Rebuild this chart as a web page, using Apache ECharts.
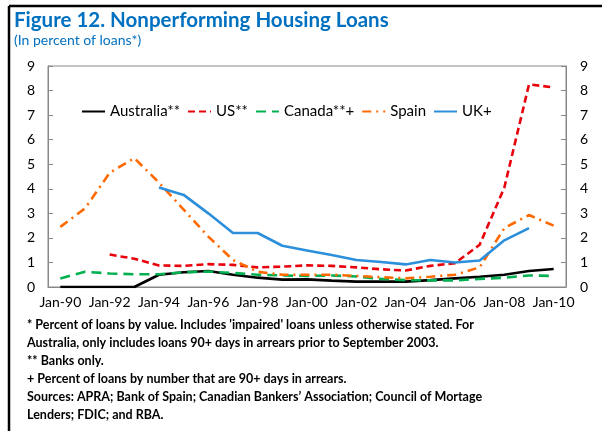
<!DOCTYPE html>
<html>
<head>
<meta charset="utf-8">
<script src="https://cdn.jsdelivr.net/npm/echarts@6/dist/echarts.min.js"></script>
<style>
  html, body { margin: 0; padding: 0; background: #fff; }
  #chart { width: 602px; height: 431px; }
</style>
</head>
<body>
<div id="chart"></div>
<script>
// yearly observations, Jan-90 .. Jan-10
const years = ['Jan-90', 'Jan-91', 'Jan-92', 'Jan-93', 'Jan-94', 'Jan-95', 'Jan-96', 'Jan-97',
  'Jan-98', 'Jan-99', 'Jan-00', 'Jan-01', 'Jan-02', 'Jan-03', 'Jan-04', 'Jan-05', 'Jan-06',
  'Jan-07', 'Jan-08', 'Jan-09', 'Jan-10'];

const australia = [0, 0, 0, 0, 0.5, 0.6, 0.65, 0.5, 0.38, 0.3, 0.31, 0.26, 0.22, 0.22, 0.22, 0.28, 0.35, 0.42, 0.5, 0.65, 0.73];
const us = [null, null, 1.32, 1.15, 0.88, 0.86, 0.93, 0.9, 0.8, 0.83, 0.88, 0.86, 0.8, 0.72, 0.67, 0.86, 0.97, 1.72, 4.05, 8.25, 8.13];
const canada = [0.35, 0.62, 0.55, 0.52, 0.52, 0.6, 0.63, 0.57, 0.5, 0.47, 0.45, 0.47, 0.43, 0.33, 0.28, 0.27, 0.27, 0.33, 0.38, 0.47, 0.45];
const spain = [2.45, 3.2, 4.65, 5.25, 4.25, 3.15, 2.05, 1.1, 0.62, 0.5, 0.5, 0.5, 0.45, 0.4, 0.35, 0.42, 0.5, 0.8, 2.4, 2.93, 2.5];
const uk = [null, null, null, null, 4.05, 3.75, 3.0, 2.2, 2.2, 1.68, 1.49, 1.3, 1.1, 1.02, 0.92, 1.1, 1.0, 1.08, 1.9, 2.4, null];

const notes = [
  "* Percent of loans by value. Includes 'impaired' loans unless otherwise stated. For",
  "Australia, only includes loans 90+ days in arrears prior to September 2003.",
  "** Banks only.",
  "+ Percent of loans by number that are 90+ days in arrears.",
  "Sources: APRA; Bank of Spain; Canadian Bankers\u2019 Association; Council of Mortage",
  "Lenders; FDIC; and RBA."
];

const FONT = 'Lato';
const chart = echarts.init(document.getElementById('chart'));

function yAxis(pos, margin) {
  return {
    type: 'value',
    position: pos,
    min: 0, max: 9, interval: 1,
    axisLine: { show: true, lineStyle: { color: '#888' } },
    axisTick: { show: true, inside: true, length: 5, lineStyle: { color: '#888' } },
    splitLine: { show: false },
    axisLabel: { color: '#000', fontFamily: FONT, fontSize: 14, margin: margin }
  };
}

function line(name, data, color, type) {
  return {
    name: name, type: 'line', data: data,
    symbol: 'none', connectNulls: false, animation: false,
    lineStyle: { color: color, width: 2.6, type: type },
    itemStyle: { color: color }
  };
}

const graphics = [
  { type: 'line', shape: { x1: 9, y1: 6, x2: 602, y2: 6 }, style: { stroke: '#000', lineWidth: 2.5 } },
  { type: 'line', shape: { x1: 9, y1: 6, x2: 9, y2: 431 }, style: { stroke: '#000', lineWidth: 2.5 } }
];
notes.forEach((t, i) => {
  graphics.push({
    type: 'text', left: 27, top: 318 + i * 18,
    style: { text: t, fill: '#000', font: 'bold 12.5px ' + FONT }
  });
});

chart.setOption({
  animation: false,
  title: {
    text: 'Figure 12. Nonperforming Housing Loans',
    subtext: '(In percent of loans*)',
    left: 14, top: 10, itemGap: 2,
    padding: [0, 0, 0, 0],
    textStyle: { color: '#0070c0', fontFamily: FONT, fontWeight: 'bold', fontSize: 20.5 },
    subtextStyle: { color: '#0070c0', fontFamily: FONT, fontSize: 14 }
  },
  legend: {
    left: 76, top: 99,
    itemWidth: 23, itemHeight: 14, itemGap: 7,
    itemStyle: { opacity: 0 },
    textStyle: { color: '#000', fontFamily: FONT, fontSize: 15 },
    data: ['Australia**', 'US**', 'Canada**+', 'Spain', 'UK+']
  },
  grid: { left: 48, right: 36, top: 66, bottom: 144, show: true, borderColor: '#888', borderWidth: 1 },
  xAxis: {
    type: 'category',
    data: years,
    boundaryGap: true,
    axisLine: { lineStyle: { color: '#888' } },
    axisTick: { show: false },
    axisLabel: { color: '#000', fontFamily: FONT, fontSize: 14, interval: 1, margin: 8 }
  },
  yAxis: [yAxis('left', 13), yAxis('right', 14)],
  series: [
    line('Australia**', australia, '#000000', 'solid'),
    line('US**', us, '#e8000b', [7, 4]),
    line('Canada**+', canada, '#00b050', [10, 6]),
    line('Spain', spain, '#ff6a00', [9, 5, 2, 5]),
    line('UK+', uk, '#2c8fdb', 'solid')
  ],
  graphic: graphics
});
</script>
</body>
</html>
